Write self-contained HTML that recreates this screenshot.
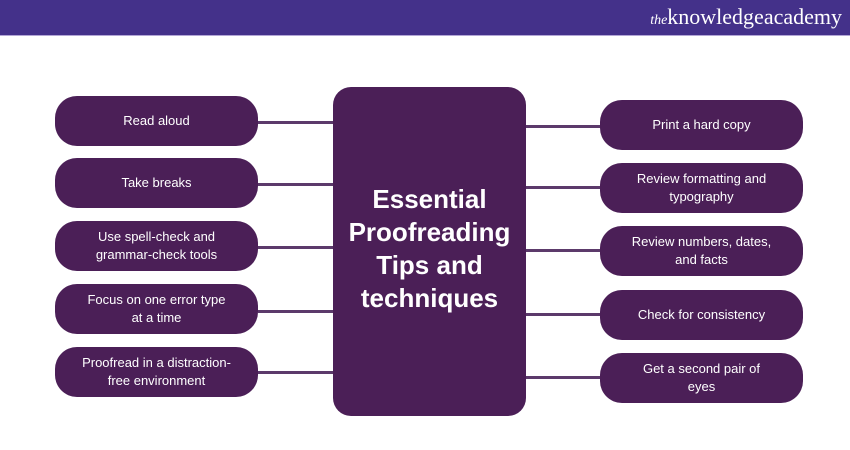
<!DOCTYPE html>
<html><head><style>
body{margin:0;width:850px;height:450px;background:#fff;position:relative;overflow:hidden;font-family:"Liberation Sans",sans-serif}
.hdr{position:absolute;left:0;top:0;width:850px;height:35px;background:#44318a;border-bottom:1px solid #b3a6d6}
.logo{position:absolute;right:8px;top:4px;color:#fff;font-family:"Liberation Serif",serif;font-size:22px}
.logo i{font-size:14px}
.b{position:absolute;background:#4b1f57;color:#fff;border-radius:22px;display:flex;align-items:center;justify-content:center;text-align:center;font-size:13px;line-height:18px;width:203px;height:50px}
.c{position:absolute;left:333px;top:87px;width:193px;height:329px;background:#4b1f57;border-radius:18px;color:#fff;font-weight:bold;font-size:26px;line-height:33px;text-align:center}
.l{position:absolute;height:3px;background:#5c3a6b}
</style></head><body>
<div class="hdr"><div class="logo"><i>the</i>knowledgeacademy</div></div>
<div class="l" style="left:258px;top:121px;width:76px"></div>
<div class="l" style="left:258px;top:183px;width:76px"></div>
<div class="l" style="left:258px;top:246px;width:76px"></div>
<div class="l" style="left:258px;top:310px;width:76px"></div>
<div class="l" style="left:258px;top:371px;width:76px"></div>
<div class="l" style="left:525px;top:125px;width:76px"></div>
<div class="l" style="left:525px;top:186px;width:76px"></div>
<div class="l" style="left:525px;top:249px;width:76px"></div>
<div class="l" style="left:525px;top:313px;width:76px"></div>
<div class="l" style="left:525px;top:376px;width:76px"></div>
<div class="b" style="left:55px;top:96px">Read aloud</div>
<div class="b" style="left:55px;top:158px">Take breaks</div>
<div class="b" style="left:55px;top:221px">Use spell-check and<br>grammar-check tools</div>
<div class="b" style="left:55px;top:284px">Focus on one error type<br>at a time</div>
<div class="b" style="left:55px;top:347px">Proofread in a distraction-<br>free environment</div>
<div class="c"><div style="margin-top:96px">Essential<br>Proofreading<br>Tips and<br>techniques</div></div>
<div class="b" style="left:600px;top:100px">Print a hard copy</div>
<div class="b" style="left:600px;top:163px">Review formatting and<br>typography</div>
<div class="b" style="left:600px;top:226px">Review numbers, dates,<br>and facts</div>
<div class="b" style="left:600px;top:290px">Check for consistency</div>
<div class="b" style="left:600px;top:353px">Get a second pair of<br>eyes</div>
</body></html>
